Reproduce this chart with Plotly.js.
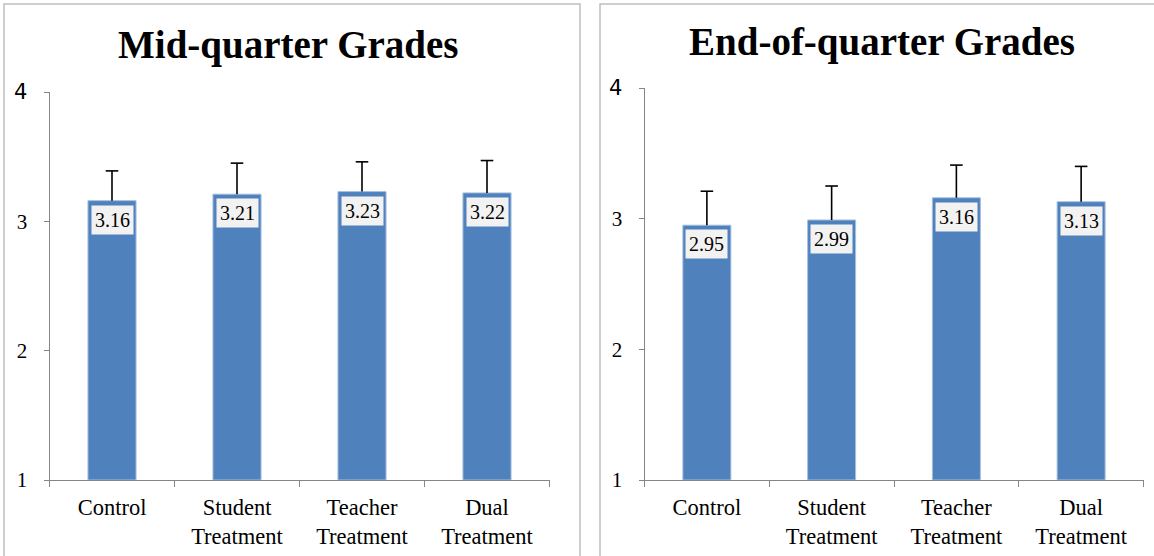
<!DOCTYPE html>
<html><head><meta charset="utf-8">
<script src="https://cdn.plot.ly/plotly-3.0.1.min.js"></script>
<style>body{margin:0;background:#fff}#c{width:1154px;height:556px}</style>
</head><body><div id="c"></div>
<script>
const categories = ['Control', 'Student<br>Treatment', 'Teacher<br>Treatment', 'Dual<br>Treatment'];
const midValues = [3.16, 3.21, 3.23, 3.22];
const midErrors = [0.23, 0.24, 0.23, 0.25];
const endValues = [2.95, 2.99, 3.16, 3.13];
const endErrors = [0.26, 0.26, 0.25, 0.27];
const yTicks = [1, 2, 3, 4];
const titles = ['Mid-quarter Grades', 'End-of-quarter Grades'];

const W = 1154, H = 556;
const serif = "'Liberation Serif', 'Times New Roman', Times, serif";
const barColor = '#4f81bd';

function barTrace(vals, errs, xa, ya) {
  return {
    type: 'bar', x: categories, y: vals.map(v => v - 1), base: 1,
    xaxis: xa, yaxis: ya, width: 0.385,
    marker: {color: barColor, line: {color: '#a7c0de', width: 1}},
    error_y: {type: 'data', array: errs, arrayminus: errs.map(() => 0), symmetric: false,
              color: '#000', thickness: 1.6, width: 0},
    hoverinfo: 'none', showlegend: false
  };
}
function capTrace(vals, errs, xa, ya) {
  return {
    type: 'scatter', mode: 'markers', x: categories, y: vals.map((v, i) => v + errs[i]),
    xaxis: xa, yaxis: ya,
    marker: {symbol: 'line-ew', size: 9, line: {color: '#000', width: 1.6}},
    hoverinfo: 'none', showlegend: false, cliponaxis: false
  };
}

function labels(vals, xa, ya) {
  return vals.map((v, i) => ({
    x: categories[i], y: v, xref: xa, yref: ya, text: v.toFixed(2),
    showarrow: false, xanchor: 'center', yanchor: 'top', yshift: -4,
    bgcolor: '#f2f2f2', borderpad: 3,
    font: {family: serif, size: 20, color: '#000'}
  }));
}

const axisCommon = {
  showgrid: false, zeroline: false, showline: true, linecolor: '#868686', linewidth: 1,
  ticks: 'outside', tickcolor: '#868686', fixedrange: true
};
const xCommon = Object.assign({}, axisCommon, {
  type: 'category', tickson: 'boundaries', ticklen: 6, ticklabelstandoff: 7,
  tickfont: {family: serif, size: 22.5, color: '#000'}
});
const yCommon = Object.assign({}, axisCommon, {
  range: [1, 4], tickvals: yTicks,
  ticktext: yTicks.map(t => t === 4 ? '<span style="font-family:DejaVu Sans">' + t + '</span>' : String(t)),
  ticklen: 5, ticklabelstandoff: 12,
  tickfont: {family: serif, size: 21, color: '#000'}
});

const layout = {
  width: W, height: H, margin: {l: 0, r: 0, t: 0, b: 0},
  paper_bgcolor: '#fff', plot_bgcolor: 'rgba(0,0,0,0)',
  xaxis: Object.assign({}, xCommon, {domain: [49.5 / W, 549.5 / W], anchor: 'y'}),
  yaxis: Object.assign({}, yCommon, {domain: [(H - 480) / H, (H - 92) / H], anchor: 'x'}),
  xaxis2: Object.assign({}, xCommon, {domain: [644.5 / W, 1143.5 / W], anchor: 'y2'}),
  yaxis2: Object.assign({}, yCommon, {domain: [(H - 480) / H, (H - 88) / H], anchor: 'x2'}),
  shapes: [
    {type: 'rect', xref: 'paper', yref: 'paper', x0: 4 / W, x1: 580 / W, y0: -0.05, y1: (H - 4) / H,
     line: {color: '#bfbfbf', width: 1.5}, layer: 'below'},
    {type: 'rect', xref: 'paper', yref: 'paper', x0: 600 / W, x1: 1.05, y0: -0.05, y1: (H - 4) / H,
     line: {color: '#bfbfbf', width: 1.5}, layer: 'below'}
  ],
  annotations: [
    {text: '<b>' + titles[0] + '</b>', xref: 'paper', yref: 'paper', x: 288 / W, y: (H - 45) / H,
     xanchor: 'center', yanchor: 'middle',
     showarrow: false, font: {family: serif, size: 39, color: '#000'}},
    {text: '<b>' + titles[1] + '</b>', xref: 'paper', yref: 'paper', x: 882 / W, y: (H - 42) / H,
     xanchor: 'center', yanchor: 'middle',
     showarrow: false, font: {family: serif, size: 39, color: '#000'}}
  ].concat(labels(midValues, 'x', 'y'), labels(endValues, 'x2', 'y2'))
};

Plotly.newPlot('c', [
  barTrace(midValues, midErrors, 'x', 'y'), capTrace(midValues, midErrors, 'x', 'y'),
  barTrace(endValues, endErrors, 'x2', 'y2'), capTrace(endValues, endErrors, 'x2', 'y2')
], layout, {displayModeBar: false, staticPlot: true});
</script></body></html>
